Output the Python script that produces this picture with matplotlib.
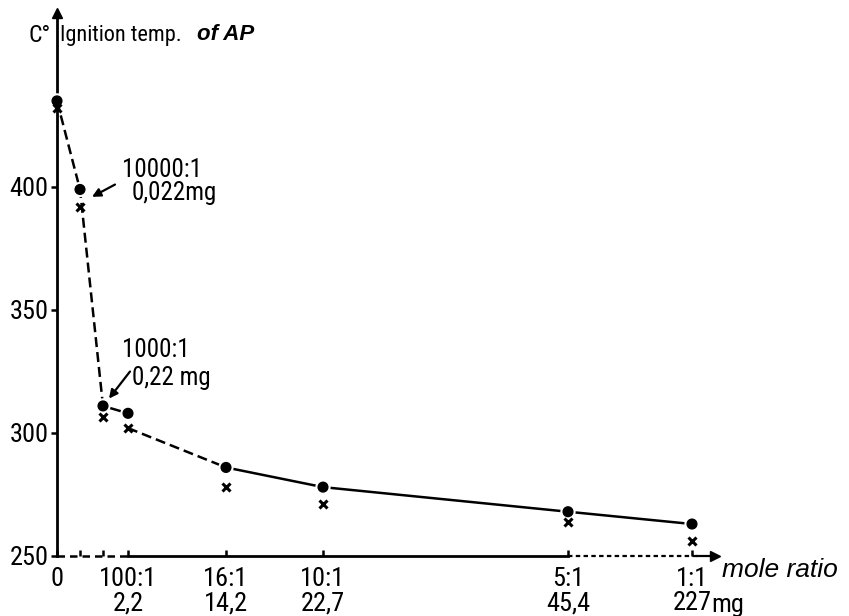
import matplotlib
matplotlib.use("Agg")
import matplotlib.pyplot as plt
import matplotlib.patheffects as pe
from matplotlib import font_manager as fm

# --- data ---
# schematic x-axis (not to scale in the original), one position per sample
x_pos = [0, 23, 46, 71, 169, 266, 511, 635]
ratio_labels = ["0", "", "", "100:1\n2,2", "16:1\n14,2", "10:1\n22,7", "5:1\n45,4", "1:1\n227"]
ign_dot = [435, 399, 311, 308, 286, 278, 268, 263]     # filled circles
ign_cross = [432, 392, 306.5, 302, 278, 271, 264, 256]  # crosses
y_ticks = [250, 300, 350, 400]

# the original lettering is a narrow stencil face; pick the narrowest we have
fonts = fm.fontManager.ttflist
names = {f.name for f in fonts}
narrow = dict(family=["Liberation Sans", "DejaVu Sans"])
scale = 0.82
for cand in ["Liberation Sans Narrow", "Roboto Condensed", "Open Sans Condensed",
             "Noto Sans Condensed", "DejaVu Sans Condensed"]:
    if cand in names:
        narrow = dict(family=[cand, "DejaVu Sans"])
        scale = 1.0
        break
else:
    for f in fonts:
        if f.stretch == "condensed" and f.name in ("DejaVu Sans", "Noto Sans", "Roboto",
                                                     "Open Sans"):
            narrow = dict(family=[f.name], fontstretch="condensed")
            scale = 0.95
            break
num_size = 19 * scale
txt_size = 18 * scale
title_size = 16 * scale
plain = ["Liberation Sans", "DejaVu Sans"]

fig = plt.figure(figsize=(8.49, 6.16), dpi=100)
ax = fig.add_axes([57 / 849, 1 - 556 / 616, 658 / 849, 543 / 616])
ax.set_xlim(0, 658)
ax.set_ylim(250, 250 + 543 / 2.46)

for s in ["top", "right", "bottom"]:
    ax.spines[s].set_visible(False)
ax.spines["left"].set_linewidth(2)

# x axis drawn by hand: dashed start, solid middle, dotted end, arrow
ax.plot([0, 71], [250, 250], color="black", lw=1.8, dashes=(3, 2), clip_on=False)
ax.plot([71, 511], [250, 250], color="black", lw=2, clip_on=False)
ax.plot([511, 640], [250, 250], color="black", lw=1.6, dashes=(2, 1.5), clip_on=False)
ax.plot([640, 652], [250, 250], color="black", lw=1.6, clip_on=False)
ax.plot([1], [0], marker=">", color="black", ms=7, transform=ax.transAxes, clip_on=False)
ax.plot([0], [1], marker="^", color="black", ms=7, transform=ax.transAxes, clip_on=False)

# curve: dashed / solid pieces as in the original
dash = dict(color="black", lw=1.8, dashes=(4, 2), zorder=2)
solid = dict(color="black", lw=1.8, zorder=2)
ax.plot(x_pos[0:3], ign_dot[0:3], **dash)
ax.plot(x_pos[2:4], ign_dot[2:4], **solid)
ax.plot(x_pos[3:5], [ign_cross[3], ign_dot[4]], **dash)
ax.plot(x_pos[4:], ign_dot[4:], **solid)

halo = [pe.withStroke(linewidth=4, foreground="white")]
ax.plot(x_pos, ign_dot, "o", color="black", ms=7, zorder=4, clip_on=False,
        path_effects=halo)
ax.plot(x_pos, ign_cross, "x", color="black", ms=6, mew=2.2, zorder=5, clip_on=False)

# ticks
ax.set_yticks(y_ticks)
ax.set_yticklabels([str(v) for v in y_ticks], fontsize=num_size, **narrow)
ax.tick_params(axis="y", direction="out", length=4, width=1.8, pad=2)
ax.set_xticks(x_pos)
ax.set_xticklabels(ratio_labels, linespacing=1.0, va="top", fontsize=num_size,
                   **narrow)
ax.tick_params(axis="x", direction="in", length=4, width=1.8, pad=8)

# texts
fig.text(28 / 849, 1 - 35 / 616, "C°", va="center", fontsize=title_size + 1, **narrow)
fig.text(60 / 849, 1 - 35 / 616, "Ignition temp.", va="center", fontsize=title_size,
         **narrow)
fig.text(197 / 849, 1 - 35 / 616, "of AP", family=plain, fontsize=16,
         style="italic", weight="bold", va="center")
fig.text(722 / 849, 1 - 570 / 616, "mole ratio", family=plain, fontsize=19,
         style="italic", va="center")
ax.annotate("mg", xy=(x_pos[-1], 0), xycoords=("data", "axes fraction"),
            xytext=(14, -35), textcoords="offset points", va="center",
            fontsize=num_size, **narrow)

arrow = dict(arrowstyle="-|>,head_length=0.5,head_width=0.25", color="black",
             lw=1.6, shrinkA=0, shrinkB=0)
ax.text(65, 407, "10000:1", va="center", fontsize=txt_size, **narrow)
ax.text(75, 397.6, "0,022mg", va="center", fontsize=txt_size, **narrow)
ax.annotate("", xy=(35, 396), xytext=(58, 401), arrowprops=arrow)

ax.text(65, 333.7, "1000:1", va="center", fontsize=txt_size, **narrow)
ax.text(75, 322.4, "0,22 mg", va="center", fontsize=txt_size, **narrow)
ax.annotate("", xy=(52, 314), xytext=(73, 325), arrowprops=arrow)

fig.savefig("out.png", dpi=100)
